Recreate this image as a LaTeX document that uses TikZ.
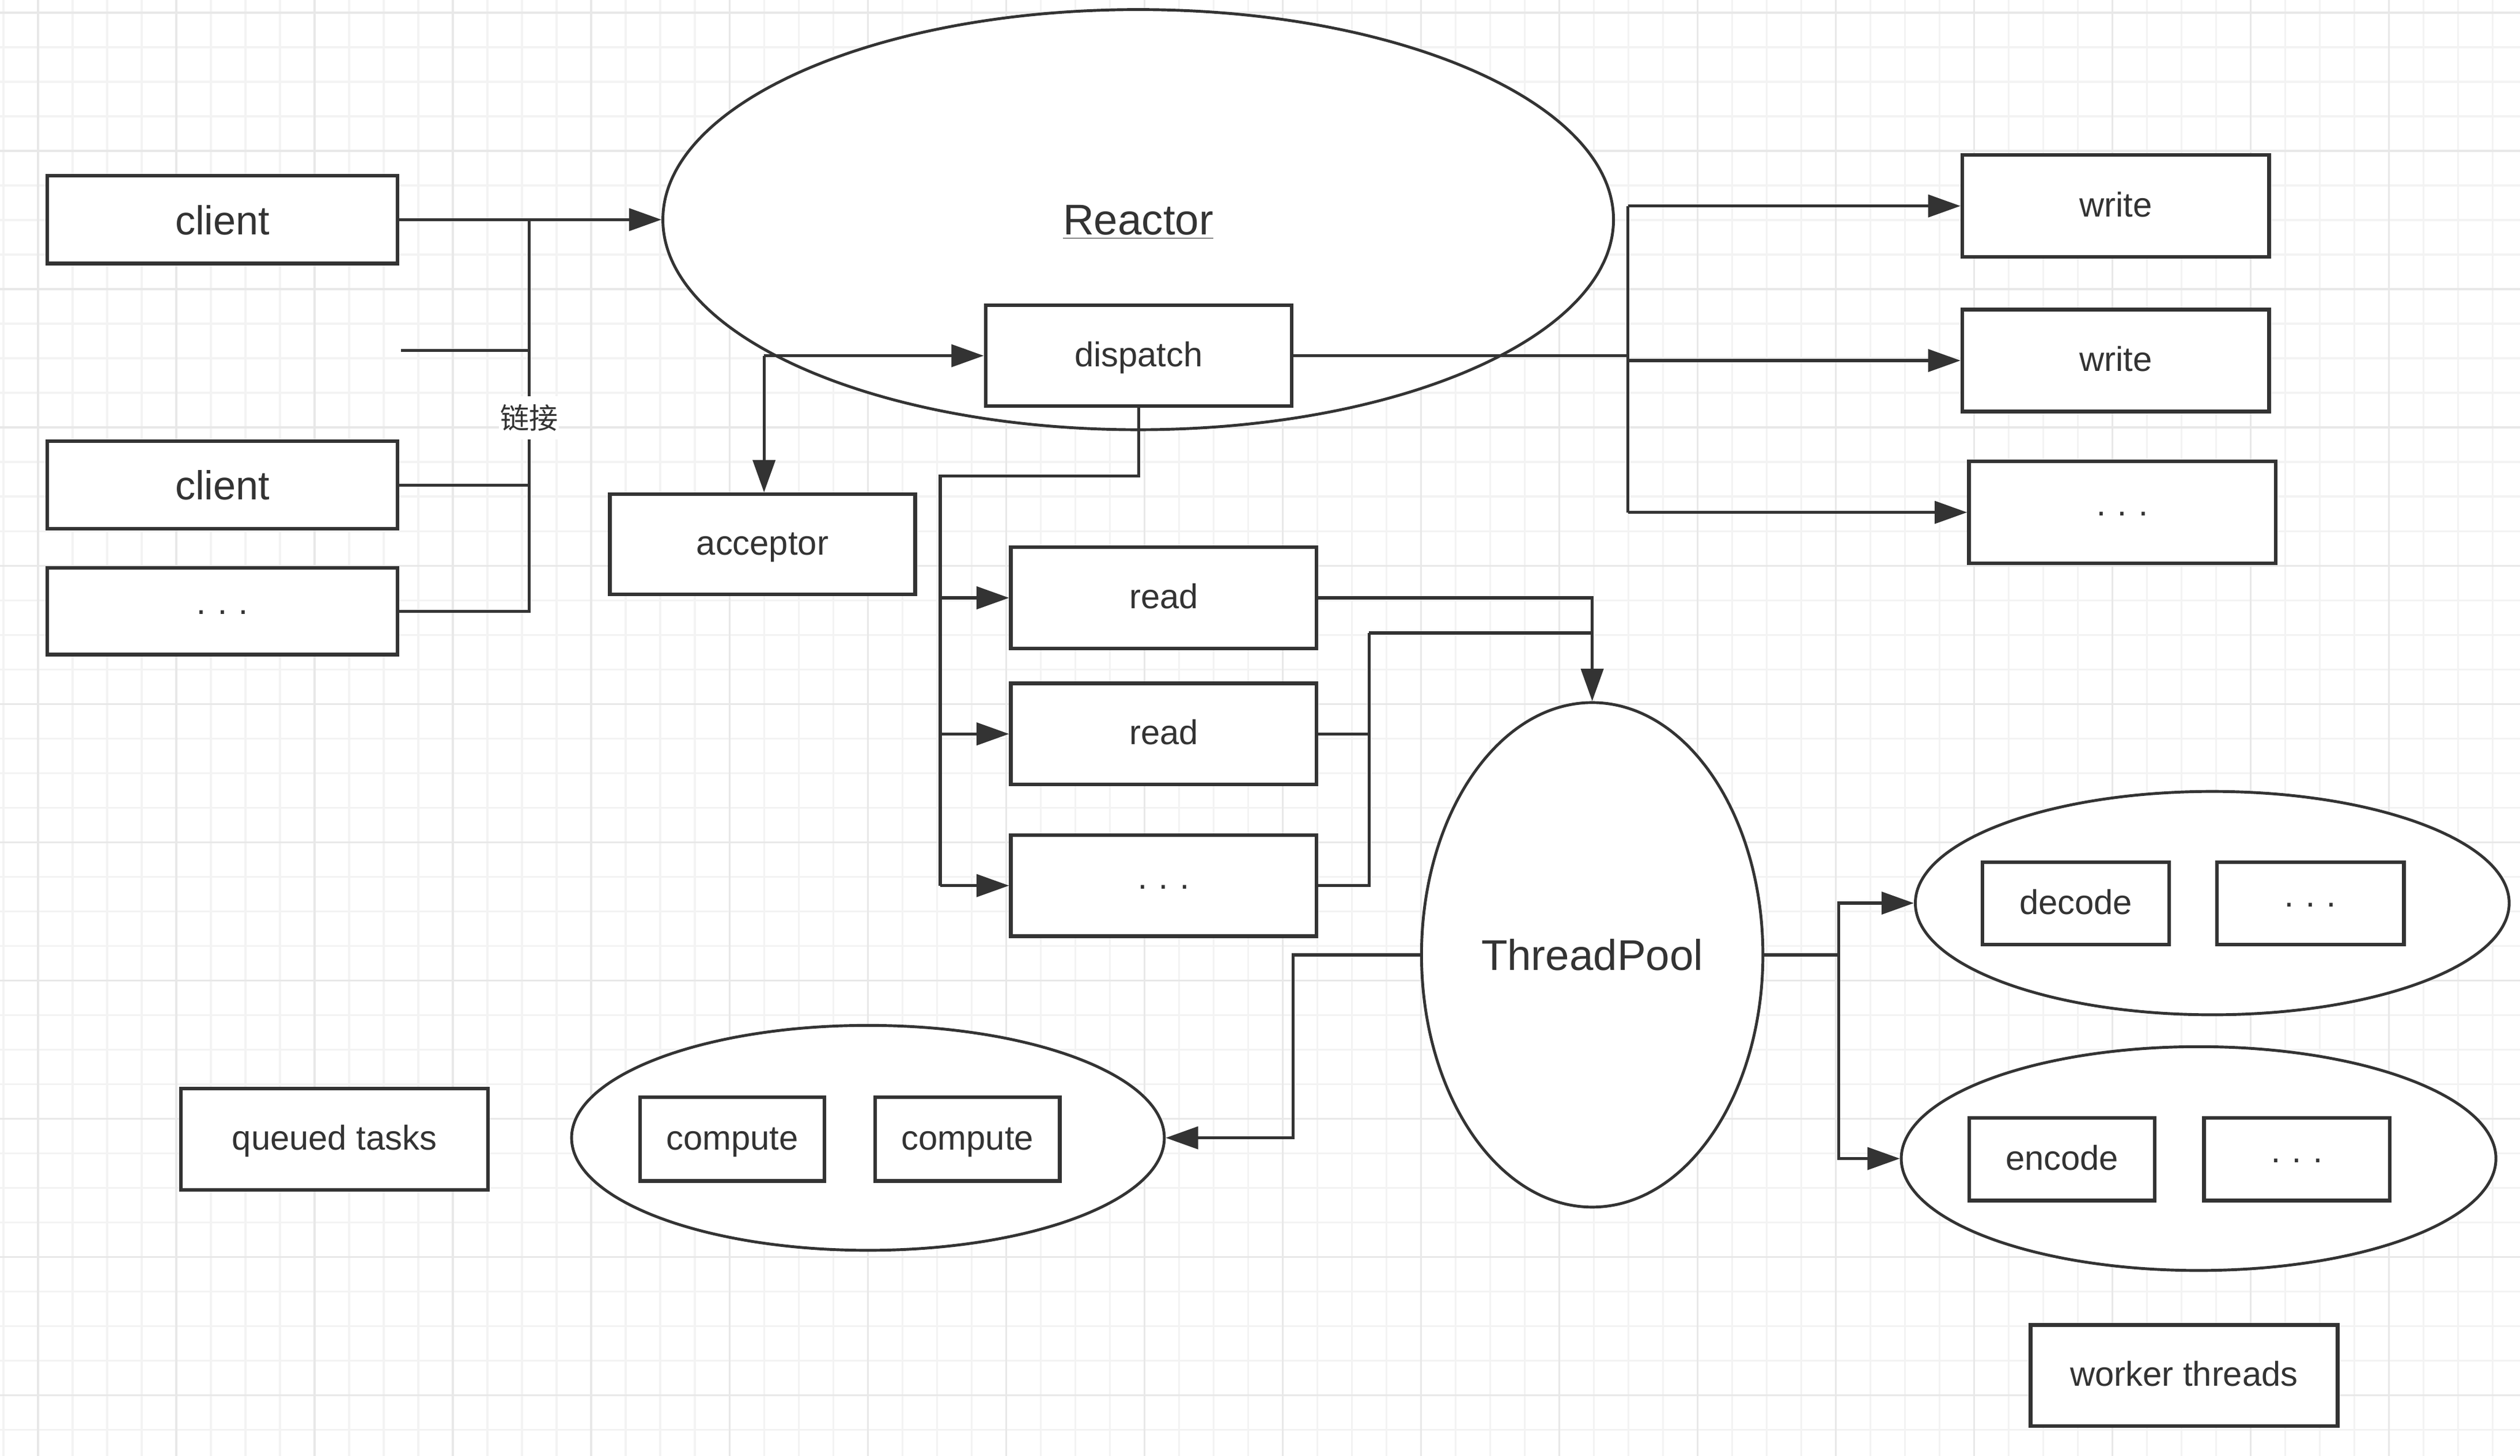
\documentclass[tikz,border=0pt]{standalone}
\usepackage{fontspec}
\setmainfont{Liberation Sans}
\newfontfamily\cjkfont{Noto Sans CJK SC}
\usetikzlibrary{shapes.geometric,arrows.meta}
\definecolor{dk}{HTML}{333333}
\definecolor{gminor}{HTML}{F3F3F3}
\definecolor{gmajor}{HTML}{E8E8E8}
\newdimen\pxu
\pxu=0.027895cm
\begin{document}
\begin{tikzpicture}[x=0.027895cm,y=-0.027895cm,
  gminorline/.style={draw=gminor, line width=0.9pt},
  gmajorline/.style={draw=gmajor, line width=0.9pt},
  box/.style 2 args={rectangle, draw=dk, line width=1.8pt, fill=white, text=dk, inner sep=0pt,
    minimum width={#1*\pxu}, minimum height={#2*\pxu}, font=\fontsize{17}{20}\selectfont,
    text height=10.5pt, text depth=0pt},
  ellbox/.style 2 args={ellipse, draw=dk, line width=1.4pt, fill=white, text=dk, inner sep=0pt,
    minimum width={#1*\pxu}, minimum height={#2*\pxu}},
  conn/.style={draw=dk, line width=1.5pt},
  arr/.style={conn, -{Triangle[length=16pt, width=11pt]}},
  clientfont/.style={font=\fontsize{20}{24}\selectfont, text height=14.6pt, text depth=0pt},
  bigfont/.style={font=\fontsize{21.2}{25}\selectfont, text height=15pt, text depth=0pt},
]
\useasboundingbox (0,0) rectangle (1568,906.2);
\fill[white] (0,0) rectangle (1568,906.2);
% grid
\foreach \k in {0,...,72} \draw[gminorline] ({2.15+21.51*\k},0) -- ({2.15+21.51*\k},906.2);
\foreach \k in {0,...,41} \draw[gminorline] (0,{7.89+21.51*\k}) -- (1568,{7.89+21.51*\k});
\foreach \k in {0,...,17} \draw[gmajorline] ({23.66+86.04*\k},0) -- ({23.66+86.04*\k},906.2);
\foreach \k in {0,...,10} \draw[gmajorline] (0,{7.89+86.04*\k}) -- (1568,{7.89+86.04*\k});

% ellipses
\node[ellbox={591.5}{261.5}, bigfont] (reactor) at (708.2,136.7) {\underline{Reactor}};
\node[ellbox={212.4}{314}, bigfont] (threadpool) at (990.7,594.3) {ThreadPool};
\node[ellbox={369.5}{139}] (decodeEll) at (1376.5,562.1) {};
\node[ellbox={370}{139.3}] (encodeEll) at (1368,721.1) {};
\node[ellbox={368.8}{140}] (computeEll) at (540.05,708.2) {};

% boxes
\node[box={218}{54.5}, clientfont] (client1) at (138.4,136.7) {client};
\node[box={218}{54.5}, clientfont] (client2) at (138.4,301.9) {client};
\node[box={218}{54}] (dots1) at (138.4,380.4) {· · ·};
\node[box={190}{62.4}] (acceptor) at (474.4,338.8) {acceptor};
\node[box={190.5}{62.8}] (dispatch) at (708.5,221.4) {dispatch};
\node[box={190.2}{63}] (read1) at (724.1,372.1) {read};
\node[box={190.2}{63}] (read2) at (724.1,456.8) {read};
\node[box={190.2}{63}] (dots2) at (724.1,551.2) {· · ·};
\node[box={190.8}{63.5}] (write1) at (1316.4,128.2) {write};
\node[box={190.8}{63.5}] (write2) at (1316.4,224.4) {write};
\node[box={190.8}{63.5}] (dots3) at (1320.5,318.9) {· · ·};
\node[box={116.3}{51.4}] (decode) at (1291.6,562.3) {decode};
\node[box={116.3}{51.4}] (dots4) at (1437.6,562.3) {· · ·};
\node[box={115.6}{51.4}] (encode) at (1283,721.5) {encode};
\node[box={115.6}{51.4}] (dots5) at (1429.2,721.5) {· · ·};
\node[box={114.8}{52.2}] (compute1) at (455.6,708.9) {compute};
\node[box={114.8}{52.2}] (compute2) at (602,708.9) {compute};
\node[box={191.2}{63.2}] (queued) at (208.1,709.1) {queued tasks};
\node[box={191}{63}] (worker) at (1359,856.2) {worker threads};

% client links
\coordinate (busT) at (329.2,136.7);
\coordinate (stub) at (249.6,218);
\draw[arr] (client1.east) -- (reactor.west);
\draw[conn] (dots1.east) -| (busT);
\draw[conn] (client2.east) -- (client2.east -| busT);
\draw[conn] (stub) -- (stub -| busT);
\node[fill=white, inner xsep=0.5pt, inner ysep=4pt, text=dk, font=\cjkfont\fontsize{14.3}{16}\selectfont] (lbl) at (329.2,260) {链接};

% dispatch
\coordinate (split) at (475.4,221.4);
\draw[arr] (split) -- (dispatch.west);
\draw[arr] (split) -- (split |- acceptor.north);

% dispatch -> reads
\coordinate (rb) at (585,296.4);
\draw[conn] (dispatch.south) |- (rb) -- (rb |- dots2.west);
\draw[arr] (rb |- read1.west) -- (read1.west);
\draw[arr] (rb |- read2.west) -- (read2.west);
\draw[arr] (rb |- dots2.west) -- (dots2.west);

% dispatch -> writes
\coordinate (wb) at (1013,222);
\draw[conn] (dispatch.east) -- (dispatch.east -| wb);
\draw[conn] (wb |- write1.west) -- (wb |- dots3.west);
\draw[arr] (wb |- write1.west) -- (write1.west);
\draw[arr] (wb |- write2.west) -- (write2.west);
\draw[arr] (wb |- dots3.west) -- (dots3.west);

% reads -> threadpool
\draw[arr] (read1.east) -| (threadpool.north);
\coordinate (rj) at (851.8,394);
\draw[conn] (read2.east) -| (rj);
\draw[conn] (dots2.east) -| (rj);
\draw[conn] (rj) -- (rj -| threadpool.north);

% threadpool -> workers
\coordinate (tr) at (1144,594.3);
\draw[conn] (threadpool.east) -- (tr);
\draw[arr] (tr) |- (decodeEll.west);
\draw[arr] (tr) |- (encodeEll.west);

% threadpool -> compute
\coordinate (tl) at (804.5,594.3);
\draw[arr] (threadpool.west) -- (tl) |- (computeEll.east);
\end{tikzpicture}
\end{document}
